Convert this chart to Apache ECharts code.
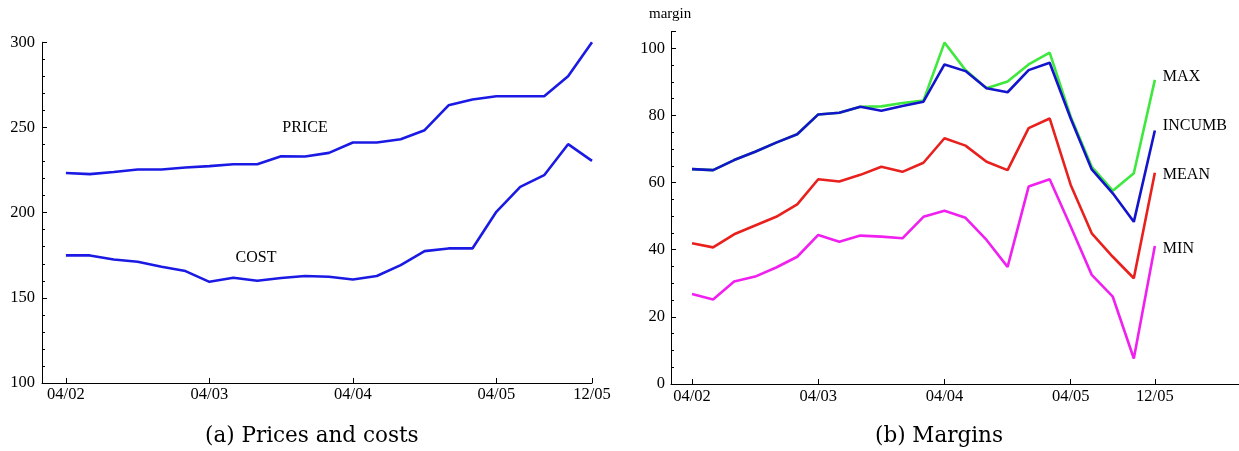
<!DOCTYPE html>
<html>
<head>
<meta charset="utf-8">
<script src="https://cdn.jsdelivr.net/npm/echarts@6/dist/echarts.min.js"></script>
<style>
html,body{margin:0;padding:0;background:#fff;}
#c{width:1239px;height:451px;}
</style>
</head>
<body>
<div id="c"></div>
<script>
// months since 04/2002 (bimonthly observations)
const months = [0,2,4,6,8,10,12,14,16,18,20,22,24,26,28,30,32,34,36,38,40,42,44];
const xTickMonths = [0,12,24,36,44];
const xTickLabels = ['04/02','04/03','04/04','04/05','12/05'];

// (a) Prices and costs
const price = [223.3,222.6,223.9,225.3,225.3,226.5,227.3,228.4,228.4,233.1,233.0,235.1,241.2,241.2,243.1,248.4,263.0,266.4,268.3,268.3,268.3,280.0,300.0];
const cost  = [174.9,174.9,172.5,171.2,168.2,165.7,159.4,161.8,160.0,161.6,162.8,162.4,160.8,162.8,169.2,177.4,179.0,179.0,200.5,215.1,222.0,240.2,230.4];

// (b) Margins
const maxM    = [64.0,63.7,66.7,69.2,71.9,74.4,80.3,80.8,82.6,82.7,83.7,84.4,101.7,93.5,88.1,90.1,95.2,98.7,79.6,64.7,57.6,62.8,90.6];
const incumb  = [64.0,63.7,66.7,69.2,71.9,74.4,80.3,80.8,82.6,81.4,82.8,84.1,95.2,93.2,88.1,86.9,93.5,95.7,79.1,63.9,56.8,48.3,75.5];
const meanM   = [41.9,40.7,44.6,47.2,49.8,53.5,61.0,60.3,62.3,64.7,63.2,65.9,73.2,71.0,66.2,63.7,76.2,79.1,59.3,44.9,37.9,31.5,62.9];
const minM    = [26.8,25.2,30.5,32.0,34.7,37.9,44.4,42.4,44.2,43.9,43.4,49.8,51.6,49.5,42.9,34.9,58.8,61.0,46.9,32.5,26.0,7.6,41.1];

const pair = arr => months.map((m,i)=>[m,arr[i]]);
const FONT = 'Liberation Serif';
const axisLineStyle = {color:'#000', width:1};

function xAxisDef(gridIndex, max, margin){
  return {
    type:'value', gridIndex, min:-2, max,
    axisLine:{show:true, onZero:false, lineStyle:axisLineStyle},
    axisTick:{show:true, inside:true, length:5, customValues:xTickMonths, lineStyle:axisLineStyle},
    axisLabel:{show:true, customValues:xTickMonths, margin,
      formatter:v=>{const i=xTickMonths.indexOf(v);return i>=0?xTickLabels[i]:'';},
      color:'#000', fontFamily:FONT, fontSize:16.5},
    splitLine:{show:false}
  };
}

const chart = echarts.init(document.getElementById('c'), null, {renderer:'canvas'});
chart.setOption({
  animation:false,
  backgroundColor:'#fff',
  grid:[
    {left:42, top:42.3, width:550, height:340.7},
    {left:671, top:31.5, width:568, height:352.5}
  ],
  xAxis:[ xAxisDef(0,44,3), xAxisDef(1,52,4) ],
  yAxis:[
    {type:'value', gridIndex:0, min:100, max:300, interval:50,
     axisLine:{show:true, onZero:false, lineStyle:axisLineStyle},
     axisTick:{show:true, inside:true, length:5, lineStyle:axisLineStyle},
     minorTick:{show:true, splitNumber:5, length:3, lineStyle:axisLineStyle},
     axisLabel:{color:'#000', fontFamily:FONT, fontSize:16.5, margin:7},
     splitLine:{show:false}},
    {type:'value', gridIndex:1, min:0, max:105, interval:20,
     name:'margin', nameLocation:'end', nameGap:10,
     nameTextStyle:{color:'#000', fontFamily:FONT, fontSize:15, align:'left', padding:[0,0,0,-22]},
     axisLine:{show:true, onZero:false, lineStyle:axisLineStyle},
     axisTick:{show:true, inside:true, length:5, lineStyle:axisLineStyle},
     minorTick:{show:true, splitNumber:4, length:3, lineStyle:axisLineStyle},
     axisLabel:{color:'#000', fontFamily:FONT, fontSize:16.5, margin:6, showMaxLabel:false,
       formatter:v=> (v%20===0? String(v):'')},
     splitLine:{show:false}}
  ],
  series:[
    {type:'line', xAxisIndex:0, yAxisIndex:0, data:pair(price), symbol:'none',
     lineStyle:{color:'#1a1ae4', width:2.6},
     markPoint:{symbol:'circle', symbolSize:0, silent:true,
       label:{show:true, position:'inside', formatter:'PRICE', color:'#000', fontFamily:FONT, fontSize:16},
       data:[{coord:[20,249.7]}]}},
    {type:'line', xAxisIndex:0, yAxisIndex:0, data:pair(cost), symbol:'none',
     lineStyle:{color:'#1a1ae4', width:2.6},
     markPoint:{symbol:'circle', symbolSize:0, silent:true,
       label:{show:true, position:'inside', formatter:'COST', color:'#000', fontFamily:FONT, fontSize:16},
       data:[{coord:[15.9,173.3]}]}},
    {type:'line', xAxisIndex:1, yAxisIndex:1, data:pair(maxM), symbol:'none',
     lineStyle:{color:'#3ee83e', width:2.6},
     endLabel:{show:true, formatter:'MAX', distance:8, offset:[0,-3], color:'#000', fontFamily:FONT, fontSize:16}},
    {type:'line', xAxisIndex:1, yAxisIndex:1, data:pair(incumb), symbol:'none',
     lineStyle:{color:'#1414cc', width:2.6},
     endLabel:{show:true, formatter:'INCUMB', distance:8, offset:[0,-5], color:'#000', fontFamily:FONT, fontSize:16}},
    {type:'line', xAxisIndex:1, yAxisIndex:1, data:pair(meanM), symbol:'none',
     lineStyle:{color:'#e8201e', width:2.6},
     endLabel:{show:true, formatter:'MEAN', distance:8, offset:[0,2], color:'#000', fontFamily:FONT, fontSize:16}},
    {type:'line', xAxisIndex:1, yAxisIndex:1, data:pair(minM), symbol:'none',
     lineStyle:{color:'#f020f0', width:2.6},
     endLabel:{show:true, formatter:'MIN', distance:8, offset:[0,3], color:'#000', fontFamily:FONT, fontSize:16}}
  ],
  graphic:[
    {type:'text', left:205, top:425, style:{text:'(a) Prices and costs', fill:'#000', font:'21.5px "DejaVu Serif"'}},
    {type:'text', left:875, top:425, style:{text:'(b) Margins', fill:'#000', font:'21.5px "DejaVu Serif"'}}
  ]
});
</script>
</body>
</html>
